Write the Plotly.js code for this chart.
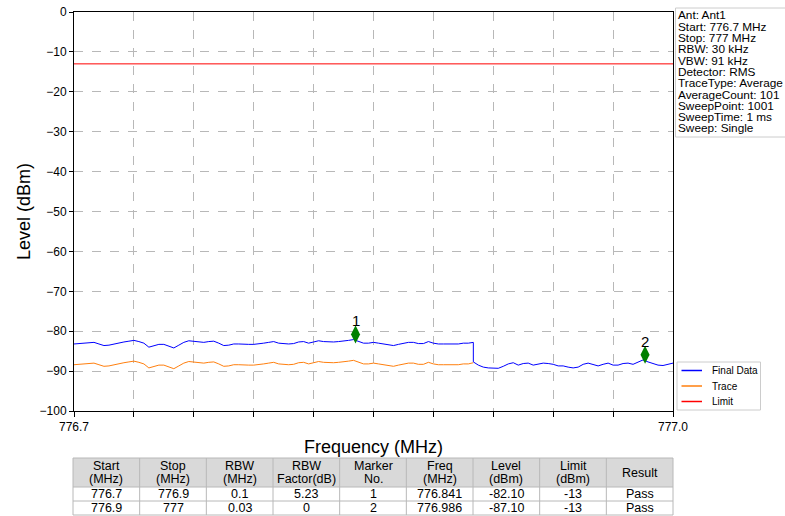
<!DOCTYPE html>
<html><head><meta charset="utf-8">
<script src="https://cdn.plot.ly/plotly-3.0.1.min.js"></script>
<style>html,body{margin:0;padding:0;background:#fff}#chart{width:785px;height:516px}</style>
</head><body><div id="chart"></div>
<script>
// Sweep definition (MHz)
const sweepStart = 776.7;
const sweepStep = 0.0025;
const seg2StartIndex = 80; // segment 2 starts at 776.9 MHz

// Final Data (dBm), segment 1 (776.7-776.9) and segment 2 (776.9-777.0)
const finalSeg1 = [-83.2,-83.1,-83.0,-82.9,-82.8,-83.2,-83.6,-83.5,-83.2,-83.0,
  -82.7,-82.5,-82.3,-82.6,-83.0,-84.0,-83.6,-83.3,-83.3,-83.8,
  -84.2,-83.5,-82.8,-82.4,-82.5,-82.6,-82.8,-82.6,-82.5,-83.0,
  -83.6,-83.5,-83.2,-83.2,-83.3,-83.3,-83.3,-83.2,-83.0,-82.8,
  -82.6,-83.0,-83.1,-83.2,-83.1,-82.7,-82.6,-83.0,-82.7,-82.4,
  -82.6,-82.7,-82.7,-82.6,-82.5,-82.3,-82.1,-82.6,-83.0,-83.0,
  -82.8,-83.0,-83.2,-83.5,-83.6,-83.3,-83.0,-82.8,-82.8,-83.1,
  -83.1,-82.6,-83.0,-83.2,-83.2,-83.2,-83.2,-83.2,-83.0,-83.0,
  -82.8];
const finalSeg2 = [-87.7,-88.5,-89.0,-89.2,-89.3,-89.3,-88.8,-88.2,-87.9,-88.5,
  -88.1,-88.0,-88.5,-88.2,-88.0,-88.1,-88.3,-88.7,-88.7,-89.0,
  -89.2,-89.0,-88.3,-88.0,-88.3,-88.7,-88.3,-88.0,-88.5,-88.5,
  -88.1,-88.0,-88.3,-87.8,-87.2,-87.7,-88.2,-88.5,-88.6,-88.3,
  -88.0];
// Trace (dBm), segment 1
const traceSeg1 = [-88.4,-88.3,-88.2,-88.1,-88.0,-88.4,-88.8,-88.7,-88.4,-88.2,
  -87.9,-87.7,-87.5,-87.8,-88.2,-89.2,-88.8,-88.5,-88.5,-89.0,
  -89.4,-88.7,-88.0,-87.6,-87.7,-87.8,-88.0,-87.8,-87.7,-88.2,
  -88.8,-88.7,-88.4,-88.4,-88.5,-88.5,-88.5,-88.4,-88.2,-88.0,
  -87.8,-88.2,-88.3,-88.4,-88.3,-87.9,-87.8,-88.2,-87.9,-87.6,
  -87.8,-87.9,-87.9,-87.8,-87.7,-87.5,-87.3,-87.8,-88.2,-88.2,
  -88.0,-88.2,-88.4,-88.7,-88.8,-88.5,-88.2,-88.0,-88.0,-88.3,
  -88.3,-87.8,-88.2,-88.4,-88.4,-88.4,-88.4,-88.4,-88.2,-88.2,
  -87.9];

const limitFreq = [776.7, 777.0];
const limitLevel = [-13, -13];

const markerNo = ['1', '2'];
const markerFreq = [776.841, 776.986];
const markerPlotLevel = [-80.8, -85.9];

const xTickVals = [776.7,776.73,776.76,776.79,776.82,776.85,776.88,776.91,776.94,776.97,777.0];
const xTickText = ['776.7','','','','','','','','','','777.0'];
const yTickVals = [0,-10,-20,-30,-40,-50,-60,-70,-80,-90,-100];

const legendNames = ['Final Data','Trace','Limit'];
const legendColors = ['#0000ff','#ff7f0e','#ff0000'];

const infoLines = ['Ant: Ant1','Start: 776.7 MHz','Stop: 777 MHz','RBW: 30 kHz','VBW: 91 kHz',
  'Detector: RMS','TraceType: Average','AverageCount: 101','SweepPoint: 1001','SweepTime: 1 ms','Sweep: Single'];

const tableHeader = ['Start<br>(MHz)','Stop<br>(MHz)','RBW<br>(MHz)','RBW<br>Factor(dB)','Marker<br>No.','Freq<br>(MHz)','Level<br>(dBm)','Limit<br>(dBm)','Result'];
const colStart = ['776.7','776.9'];
const colStop = ['776.9','777'];
const colRBW = ['0.1','0.03'];
const colFactor = ['5.23','0'];
const colMarker = ['1','2'];
const colFreq = ['776.841','776.986'];
const colLevel = ['-82.10','-87.10'];
const colLimit = ['-13','-13'];
const colResult = ['Pass','Pass'];

function freqs(startIdx, n) {
  const out = [];
  for (let i = 0; i < n; i++) out.push(Math.round((sweepStart + (startIdx + i) * sweepStep) * 1e6) / 1e6);
  return out;
}
const f1 = freqs(0, finalSeg1.length);
const f2 = freqs(seg2StartIndex, finalSeg2.length);

const FONT = 'Liberation Sans, Arial, sans-serif';
const H = 516, T = 12, B = 0;
const PH = H - T - B;
const py = (p) => (H - p) / PH; // page pixel y -> paper y
const L = 74, R = 112, PW = 785 - L - R;
const px = (p) => (p - L) / PW;

const traces = [
  {x: f1, y: traceSeg1, type: 'scatter', mode: 'lines', name: legendNames[1],
   line: {color: legendColors[1], width: 1}},
  {x: f1.concat(f2), y: finalSeg1.concat(finalSeg2), type: 'scatter', mode: 'lines', name: legendNames[0],
   line: {color: legendColors[0], width: 1}},
  {x: limitFreq, y: limitLevel, type: 'scatter', mode: 'lines', name: legendNames[2],
   line: {color: legendColors[2], width: 1}},
  {x: markerFreq, y: markerPlotLevel, type: 'scatter', mode: 'markers', name: 'Markers',
   marker: {symbol: 'diamond-tall', size: 13, color: '#008000'}, hoverinfo: 'skip', cliponaxis: false}
];

const shapes = [];
const annotations = [];
const txt = (text, x, y, size, anchor) => ({text, xref: 'paper', yref: 'paper', x, y,
  xanchor: anchor || 'center', yanchor: 'middle', showarrow: false, borderpad: 0,
  font: {family: FONT, size: size, color: '#000'}});

// Marker number labels
markerNo.forEach((n, i) => annotations.push({text: n, xref: 'x', yref: 'y', x: markerFreq[i], y: markerPlotLevel[i],
  yshift: 13.5, yanchor: 'middle', showarrow: false, borderpad: 0, font: {family: FONT, size: 15, color: '#000'}}));

// Info box
shapes.push({type: 'rect', xref: 'paper', yref: 'paper', x0: px(675.5), x1: px(800), y0: py(137), y1: py(8),
  line: {color: '#cccccc', width: 1}, fillcolor: '#ffffff', layer: 'below'});
infoLines.forEach((t, i) => annotations.push(txt(t, px(677), py(15.5 + 11.3 * i), 11.8, 'left')));

// Legend box
shapes.push({type: 'rect', xref: 'paper', yref: 'paper', x0: px(677), x1: px(760.5), y0: py(410), y1: py(362),
  line: {color: '#cccccc', width: 1}, fillcolor: '#ffffff', layer: 'above'});
legendNames.forEach((n, i) => {
  const yy = py(370.5 + 15.5 * i);
  shapes.push({type: 'line', xref: 'paper', yref: 'paper', x0: px(681.5), x1: px(702), y0: yy, y1: yy,
    line: {color: legendColors[i], width: 1.5}, layer: 'above'});
  annotations.push(txt(n, px(710.5), yy, 10, 'left'));
});

// Result table
const tabLeft = 73, tabRight = 673, colW = (tabRight - tabLeft) / tableHeader.length;
const hTop = 458, hBot = 487, rowH = 14;
const cols = [colStart, colStop, colRBW, colFactor, colMarker, colFreq, colLevel, colLimit, colResult];
shapes.push({type: 'rect', xref: 'paper', yref: 'paper', x0: px(tabLeft), x1: px(tabRight), y0: py(hBot), y1: py(hTop),
  line: {width: 0}, fillcolor: '#d9d9d9', layer: 'above'});
const tabBottom = hBot + rowH * colStart.length;
[hTop, hBot, hBot + rowH, tabBottom].forEach(yv => shapes.push({type: 'line', xref: 'paper', yref: 'paper',
  x0: px(tabLeft), x1: px(tabRight), y0: py(yv), y1: py(yv), line: {color: '#b8b8b8', width: 1}, layer: 'above'}));
for (let c = 0; c <= tableHeader.length; c++) {
  const xv = tabLeft + c * colW;
  shapes.push({type: 'line', xref: 'paper', yref: 'paper', x0: px(xv), x1: px(xv), y0: py(hTop), y1: py(tabBottom),
    line: {color: '#b8b8b8', width: 1}, layer: 'above'});
}
tableHeader.forEach((h, c) => {
  const cx = px(tabLeft + (c + 0.5) * colW);
  const parts = h.split('<br>');
  if (parts.length === 1) annotations.push(txt(parts[0], cx, py((hTop + hBot) / 2), 12.5));
  else parts.forEach((p, k) => annotations.push(txt(p, cx, py(465.5 + 13.5 * k), 12.5)));
  cols[c].forEach((v, r) => annotations.push(txt(v, cx, py(hBot + rowH * r + rowH / 2), 12.5)));
});

const layout = {
  width: 785, height: 516,
  margin: {l: L, r: R, t: T, b: B},
  paper_bgcolor: '#fff', plot_bgcolor: '#fff',
  font: {family: FONT, size: 12, color: '#000'},
  showlegend: false,
  xaxis: {range: [776.7, 777.0], domain: [0, 1], anchor: 'y',
    tickvals: xTickVals, ticktext: xTickText, ticks: 'outside', ticklen: 5, tickcolor: '#000',
    showline: true, linecolor: '#000', linewidth: 1, mirror: true,
    showgrid: true, gridcolor: '#b8b8b8', griddash: 'dash', gridwidth: 1, zeroline: false,
    tickfont: {family: FONT, size: 12, color: '#000'},
    title: {text: 'Frequency (MHz)', font: {family: FONT, size: 18, color: '#000'}, standoff: 6},
    automargin: false, fixedrange: true},
  yaxis: {range: [-100, 0], domain: [py(411), 1],
    tickvals: yTickVals, ticks: 'outside', ticklen: 4, tickcolor: '#000',
    showline: true, linecolor: '#000', linewidth: 1, mirror: true,
    showgrid: true, gridcolor: '#b8b8b8', griddash: 'dash', gridwidth: 1, zeroline: false,
    tickfont: {family: FONT, size: 12, color: '#000'},
    title: {text: 'Level (dBm)', font: {family: FONT, size: 18, color: '#000'}, standoff: 4},
    automargin: false, fixedrange: true},
  shapes: shapes,
  annotations: annotations
};

Plotly.newPlot('chart', traces, layout, {staticPlot: true, displayModeBar: false});
</script>
</body></html>
